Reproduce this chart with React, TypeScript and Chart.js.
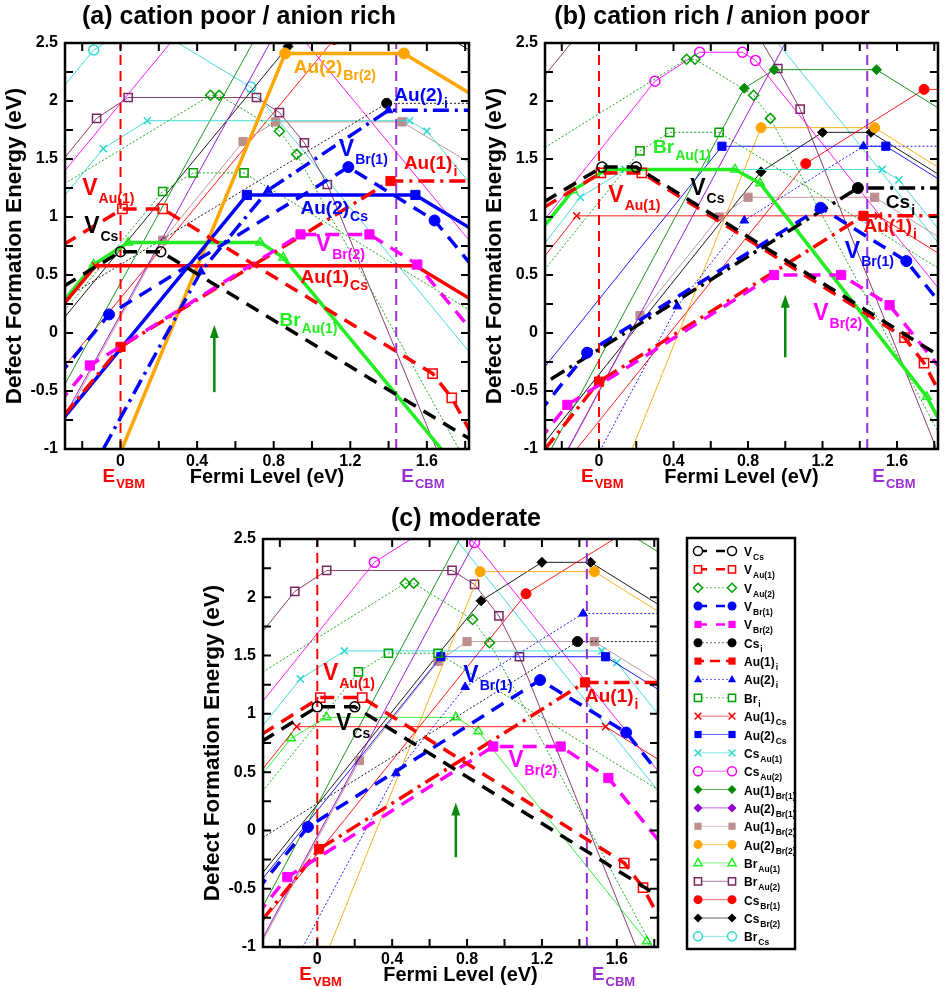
import React, { useEffect, useRef } from 'react';
import { Chart, registerables } from 'chart.js';

Chart.register(...registerables);

type Pt = [number, number];

// ---------- axes ----------
const xMin = -0.29, xMax = 1.82, yMin = -1, yMax = 2.5;
const xTickValues = [-0.2, 0, 0.2, 0.4, 0.6, 0.8, 1.0, 1.2, 1.4, 1.6, 1.8];
const xLabelValues = [0, 0.4, 0.8, 1.2, 1.6];
const xTickLabels = ['0', '0.4', '0.8', '1.2', '1.6'];
const yTickValues = [-1, -0.75, -0.5, -0.25, 0, 0.25, 0.5, 0.75, 1, 1.25, 1.5, 1.75, 2, 2.25, 2.5];
const yLabelValues = [-1, -0.5, 0, 0.5, 1, 1.5, 2, 2.5];
const yTickLabels = ['-1', '-0.5', '0', '0.5', '1', '1.5', '2', '2.5'];
const eVBM = 0;
const eCBM = 1.44;

// ---------- (a) cation poor / anion rich ----------
const vCs_a: Pt[] = [[-0.4, 0.30], [0.0, 0.70], [0.21, 0.70], [1.95, -1.04]];
const vAu1_a: Pt[] = [[-0.4, 0.66], [0.01, 1.07], [0.22, 1.07], [1.63, -0.35], [1.73, -0.56], [1.95, -1.22]];
const vAu2_a: Pt[] = [[-0.4, 1.18], [0.47, 2.05], [0.515, 2.05], [0.83, 1.74], [0.92, 1.54], [1.95, -1.55]];
const vBr1_a: Pt[] = [[-0.4, -0.52], [-0.06, 0.16], [1.19, 1.43], [1.64, 0.97], [1.95, 0.35]];
const vBr2_a: Pt[] = [[-0.4, -0.76], [-0.16, -0.28], [0.94, 0.85], [1.30, 0.85], [1.55, 0.59], [1.95, -0.21]];
const csI_a: Pt[] = [[-0.4, 0.19], [1.39, 1.98], [1.95, 1.98]];
const au1I_a: Pt[] = [[-0.4, -0.92], [0.0, -0.12], [1.41, 1.31], [1.95, 1.31]];
const au2I_a: Pt[] = [[-0.4, -1.93], [0.42, 0.53], [0.77, 1.23], [1.40, 1.92], [1.95, 1.92]];
const brI_a: Pt[] = [[-0.4, -0.02], [0.22, 1.22], [0.38, 1.38], [0.645, 1.38], [1.95, 0.07]];
const au1Cs_a: Pt[] = [[-0.4, 0.04], [-0.13, 0.58], [1.54, 0.58], [1.95, 0.17]];
const au2Cs_a: Pt[] = [[-0.4, -0.94], [0.66, 1.19], [1.54, 1.19], [1.95, 0.78]];
const csAu1_a: Pt[] = [[-0.4, 0.97], [-0.09, 1.59], [0.14, 1.83], [1.51, 1.83], [1.60, 1.74], [1.95, 1.04]];
const csAu2_a: Pt[] = [[-0.4, 1.18], [0.305, 2.59], [0.54, 2.83], [0.77, 2.83], [0.84, 2.76], [1.95, 0.54]];
const au1Br1_a: Pt[] = [[-0.4, -0.77], [0.78, 2.77], [0.94, 2.93], [1.49, 2.93], [1.95, 2.47]];
const au2Br1_a: Pt[] = [[-0.4, -1.04], [0.95, 3.01]];
const au1Br2_a: Pt[] = [[-0.4, -1.07], [0.22, 0.80], [0.64, 1.65], [0.81, 1.82], [1.47, 1.82], [1.95, 1.34]];
const au2Br2_a: Pt[] = [[-0.1, -1.43], [0.86, 2.41], [1.48, 2.41], [1.95, 1.94]];
const brAu1_a: Pt[] = [[-0.4, 0.07], [-0.14, 0.59], [0.04, 0.78], [0.73, 0.78], [0.85, 0.65], [1.76, -1.17], [1.95, -1.74]];
const brAu2_a: Pt[] = [[-0.4, 1.29], [-0.125, 1.85], [0.04, 2.03], [0.71, 2.03], [0.83, 1.90], [0.96, 1.64], [1.08, 1.28], [1.95, -2.2]];
const csBr1_a: Pt[] = [[-0.4, -0.50], [1.115, 2.53], [1.745, 3.16], [1.95, 3.16]];
const csBr2_a: Pt[] = [[-0.4, -0.08], [0.875, 2.47], [1.20, 2.80], [1.46, 2.80], [1.95, 2.31]];
const brCs_a: Pt[] = [[-0.4, 1.92], [-0.14, 2.44], [0.11, 2.69], [0.68, 2.12], [1.95, -0.42]];

// ---------- (b) cation rich / anion poor ----------
const vCs_b: Pt[] = [[-0.4, 1.03], [0.016, 1.43], [0.20, 1.43], [1.95, -0.32]];
const vAu1_b: Pt[] = [[-0.4, 0.98], [0.01, 1.38], [0.23, 1.38], [1.64, -0.04], [1.745, -0.26], [1.95, -0.88]];
const vAu2_b: Pt[] = [[-0.4, 1.49], [0.47, 2.36], [0.515, 2.36], [0.83, 2.05], [0.92, 1.85], [1.95, -1.24]];
const vBr1_b: Pt[] = [[-0.4, -0.84], [-0.064, -0.17], [1.19, 1.08], [1.65, 0.62], [1.95, 0.02]];
const vBr2_b: Pt[] = [[-0.4, -1.08], [-0.17, -0.62], [0.94, 0.50], [1.30, 0.50], [1.56, 0.24], [1.95, -0.54]];
const csI_b: Pt[] = [[-0.4, -0.54], [1.39, 1.25], [1.95, 1.25]];
const au1I_b: Pt[] = [[-0.4, -1.22], [0.0, -0.42], [1.42, 1.01], [1.95, 1.01]];
const au2I_b: Pt[] = [[-0.4, -2.23], [0.42, 0.23], [0.78, 0.97], [1.42, 1.61], [1.95, 1.61]];
const brI_b: Pt[] = [[-0.4, 0.33], [0.22, 1.57], [0.38, 1.73], [0.645, 1.73], [1.95, 0.43]];
const au1Cs_b: Pt[] = [[-0.4, 0.44], [-0.12, 1.01], [1.50, 1.01], [1.95, 0.56]];
const au2Cs_b: Pt[] = [[-0.4, -0.51], [0.66, 1.61], [1.54, 1.61], [1.95, 1.20]];
const csAu1_b: Pt[] = [[-0.4, 0.55], [-0.10, 1.17], [0.14, 1.41], [1.52, 1.41], [1.61, 1.32], [1.95, 0.64]];
const csAu2_b: Pt[] = [[-0.4, 0.76], [0.30, 2.17], [0.54, 2.42], [0.77, 2.42], [0.84, 2.35], [1.95, 0.13]];
const au1Br1_b: Pt[] = [[-0.4, -1.43], [0.78, 2.11], [0.94, 2.27], [1.49, 2.27], [1.95, 1.81]];
const au2Br1_b: Pt[] = [[-0.4, -1.70], [1.30, 3.40]];
const au1Br2_b: Pt[] = [[-0.4, -1.71], [0.22, 0.15], [0.645, 1.00], [0.80, 1.17], [1.48, 1.17], [1.95, 0.70]];
const au2Br2_b: Pt[] = [[0.0, -1.71], [0.87, 1.77], [1.48, 1.77], [1.95, 1.30]];
const brAu1_b: Pt[] = [[-0.4, 0.71], [-0.14, 1.23], [0.04, 1.41], [0.73, 1.41], [0.865, 1.29], [1.76, -0.55], [1.95, -1.12]];
const brAu2_b: Pt[] = [[-0.4, 2.0], [-0.12, 2.56], [0.05, 2.73], [0.72, 2.73], [0.84, 2.60], [0.96, 2.28], [1.08, 1.93], [1.95, -1.55]];
const csBr1_b: Pt[] = [[-0.4, -1.56], [1.11, 1.46], [1.745, 2.10], [1.95, 2.10]];
const csBr2_b: Pt[] = [[-0.4, -1.16], [0.87, 1.39], [1.20, 1.73], [1.46, 1.73], [1.95, 1.24]];
const brCs_b: Pt[] = [[0.7, 3.02], [1.95, 0.52]];

// ---------- (c) moderate ----------
const vCs_c: Pt[] = [[-0.4, 0.66], [0.0, 1.06], [0.20, 1.06], [1.95, -0.69]];
const vAu1_c: Pt[] = [[-0.4, 0.72], [0.016, 1.14], [0.24, 1.14], [1.64, -0.28], [1.74, -0.49], [1.95, -1.12]];
const vAu2_c: Pt[] = [[-0.4, 1.25], [0.47, 2.12], [0.515, 2.12], [0.83, 1.81], [0.92, 1.61], [1.95, -1.48]];
const vBr1_c: Pt[] = [[-0.4, -0.67], [-0.05, 0.03], [1.19, 1.29], [1.65, 0.84], [1.95, 0.24]];
const vBr2_c: Pt[] = [[-0.4, -0.88], [-0.16, -0.40], [0.94, 0.72], [1.30, 0.72], [1.555, 0.45], [1.95, -0.34]];
const csI_c: Pt[] = [[-0.4, -0.17], [1.39, 1.62], [1.95, 1.62]];
const au1I_c: Pt[] = [[-0.4, -0.98], [0.01, -0.16], [1.43, 1.27], [1.95, 1.27]];
const au2I_c: Pt[] = [[-0.4, -1.97], [0.42, 0.49], [0.79, 1.23], [1.42, 1.86], [1.95, 1.86]];
const brI_c: Pt[] = [[-0.4, 0.12], [0.22, 1.36], [0.38, 1.52], [0.645, 1.52], [1.95, 0.22]];
const au1Cs_c: Pt[] = [[-0.4, 0.31], [-0.11, 0.89], [1.54, 0.89], [1.95, 0.48]];
const au2Cs_c: Pt[] = [[-0.4, -0.63], [0.66, 1.49], [1.54, 1.49], [1.95, 1.08]];
const csAu1_c: Pt[] = [[-0.4, 0.68], [-0.09, 1.30], [0.145, 1.54], [1.52, 1.54], [1.60, 1.44], [1.95, 0.74]];
const csAu2_c: Pt[] = [[-0.4, 0.89], [0.305, 2.30], [0.54, 2.54], [0.77, 2.54], [0.84, 2.47], [1.95, 0.25]];
const au1Br1_c: Pt[] = [[-0.4, -0.98], [0.78, 2.56], [0.94, 2.72], [1.49, 2.72], [1.95, 2.26]];
const au2Br1_c: Pt[] = [[-0.4, -1.25], [0.95, 2.80]];
const au1Br2_c: Pt[] = [[-0.4, -1.27], [0.225, 0.60], [0.645, 1.45], [0.80, 1.62], [1.48, 1.62], [1.95, 1.15]];
const au2Br2_c: Pt[] = [[-0.1, -1.66], [0.87, 2.22], [1.48, 2.22], [1.95, 1.75]];
const brAu1_c: Pt[] = [[-0.4, 0.27], [-0.14, 0.79], [0.05, 0.97], [0.74, 0.97], [0.86, 0.85], [1.76, -0.95], [1.95, -1.52]];
const brAu2_c: Pt[] = [[-0.4, 1.49], [-0.12, 2.05], [0.05, 2.23], [0.72, 2.23], [0.84, 2.11], [0.97, 1.84], [1.08, 1.49], [1.95, -1.99]];
const csBr1_c: Pt[] = [[-0.4, -1.0], [1.115, 2.03], [1.745, 2.66], [1.95, 2.66]];
const csBr2_c: Pt[] = [[-0.4, -0.58], [0.875, 1.97], [1.20, 2.30], [1.46, 2.30], [1.95, 1.81]];
const brCs_c: Pt[] = [[-0.4, 2.42], [-0.14, 2.94], [0.11, 3.19], [0.68, 2.62], [1.95, 0.08]];

// ---------- series appearance ----------
interface DefStyle {
  key: string; main: string; sub: string; color: string;
  point: string; filled: boolean; dotted?: boolean; legendDash?: number[];
}
const FONT = '"Liberation Sans", Arial, Helvetica, sans-serif';
const defStyles: DefStyle[] = [
  { key: 'vCs', main: 'V', sub: 'Cs', color: '#000000', point: 'circle', filled: false, legendDash: [9, 9] },
  { key: 'vAu1', main: 'V', sub: 'Au(1)', color: '#ff0000', point: 'rect', filled: false, legendDash: [9, 9] },
  { key: 'vAu2', main: 'V', sub: 'Au(2)', color: '#00a000', point: 'rectRot', filled: false, dotted: true },
  { key: 'vBr1', main: 'V', sub: 'Br(1)', color: '#0000ff', point: 'circle', filled: true, legendDash: [9, 9] },
  { key: 'vBr2', main: 'V', sub: 'Br(2)', color: '#ff00ff', point: 'rect', filled: true, legendDash: [9, 9] },
  { key: 'csI', main: 'Cs', sub: 'i', color: '#000000', point: 'circle', filled: true, dotted: true },
  { key: 'au1I', main: 'Au(1)', sub: 'i', color: '#ff0000', point: 'rect', filled: true, legendDash: [6, 6, 10, 6] },
  { key: 'au2I', main: 'Au(2)', sub: 'i', color: '#0000ff', point: 'triangle', filled: true, dotted: true },
  { key: 'brI', main: 'Br', sub: 'i', color: '#00a000', point: 'rect', filled: false, dotted: true },
  { key: 'au1Cs', main: 'Au(1)', sub: 'Cs', color: '#ff0000', point: 'crossRot', filled: false },
  { key: 'au2Cs', main: 'Au(2)', sub: 'Cs', color: '#0000ff', point: 'rect', filled: true },
  { key: 'csAu1', main: 'Cs', sub: 'Au(1)', color: '#30d8d0', point: 'crossRot', filled: false },
  { key: 'csAu2', main: 'Cs', sub: 'Au(2)', color: '#ff00ff', point: 'circle', filled: false },
  { key: 'au1Br1', main: 'Au(1)', sub: 'Br(1)', color: '#008b00', point: 'rectRot', filled: true },
  { key: 'au2Br1', main: 'Au(2)', sub: 'Br(1)', color: '#9400d3', point: 'rectRot', filled: true },
  { key: 'au1Br2', main: 'Au(1)', sub: 'Br(2)', color: '#bc8f8f', point: 'rect', filled: true },
  { key: 'au2Br2', main: 'Au(2)', sub: 'Br(2)', color: '#ffa500', point: 'circle', filled: true },
  { key: 'brAu1', main: 'Br', sub: 'Au(1)', color: '#22ee22', point: 'triangle', filled: false },
  { key: 'brAu2', main: 'Br', sub: 'Au(2)', color: '#7a2860', point: 'rect', filled: false },
  { key: 'csBr1', main: 'Cs', sub: 'Br(1)', color: '#ff0000', point: 'circle', filled: true },
  { key: 'csBr2', main: 'Cs', sub: 'Br(2)', color: '#000000', point: 'rectRot', filled: true },
  { key: 'brCs', main: 'Br', sub: 'Cs', color: '#30d8d0', point: 'circle', filled: false },
];

const panelA: Record<string, Pt[]> = {
  vCs: vCs_a, vAu1: vAu1_a, vAu2: vAu2_a, vBr1: vBr1_a, vBr2: vBr2_a, csI: csI_a, au1I: au1I_a,
  au2I: au2I_a, brI: brI_a, au1Cs: au1Cs_a, au2Cs: au2Cs_a, csAu1: csAu1_a, csAu2: csAu2_a,
  au1Br1: au1Br1_a, au2Br1: au2Br1_a, au1Br2: au1Br2_a, au2Br2: au2Br2_a, brAu1: brAu1_a,
  brAu2: brAu2_a, csBr1: csBr1_a, csBr2: csBr2_a, brCs: brCs_a,
};
const panelB: Record<string, Pt[]> = {
  vCs: vCs_b, vAu1: vAu1_b, vAu2: vAu2_b, vBr1: vBr1_b, vBr2: vBr2_b, csI: csI_b, au1I: au1I_b,
  au2I: au2I_b, brI: brI_b, au1Cs: au1Cs_b, au2Cs: au2Cs_b, csAu1: csAu1_b, csAu2: csAu2_b,
  au1Br1: au1Br1_b, au2Br1: au2Br1_b, au1Br2: au1Br2_b, au2Br2: au2Br2_b, brAu1: brAu1_b,
  brAu2: brAu2_b, csBr1: csBr1_b, csBr2: csBr2_b, brCs: brCs_b,
};
const panelC: Record<string, Pt[]> = {
  vCs: vCs_c, vAu1: vAu1_c, vAu2: vAu2_c, vBr1: vBr1_c, vBr2: vBr2_c, csI: csI_c, au1I: au1I_c,
  au2I: au2I_c, brI: brI_c, au1Cs: au1Cs_c, au2Cs: au2Cs_c, csAu1: csAu1_c, csAu2: csAu2_c,
  au1Br1: au1Br1_c, au2Br1: au2Br1_c, au1Br2: au1Br2_c, au2Br2: au2Br2_c, brAu1: brAu1_c,
  brAu2: brAu2_c, csBr1: csBr1_c, csBr2: csBr2_c, brCs: brCs_c,
};

// emphasised series per panel
const boldA: Record<string, string> = {
  vCs: 'dash', vAu1: 'dash', vBr1: 'dash', vBr2: 'dash', au1I: 'dashdot', au2I: 'dashdot',
  au1Cs: 'solid', au2Cs: 'solid', au2Br2: 'solid', brAu1: 'solid',
};
const boldB: Record<string, string> = {
  vCs: 'dash', vAu1: 'dash', vBr1: 'dash', vBr2: 'dash', csI: 'dashdot', au1I: 'dashdot', brAu1: 'solid',
};
const boldC: Record<string, string> = {
  vCs: 'dash', vAu1: 'dash', vBr1: 'dash', vBr2: 'dash', au1I: 'dashdot',
};

interface Label { x: number; y: number; main: string; sub: string; color: string; big?: boolean }
const labelsA: Label[] = [
  { x: 0.905, y: 2.24, main: 'Au(2)', sub: 'Br(2)', color: '#ffa500' },
  { x: 1.43, y: 2.0, main: 'Au(2)', sub: 'i', color: '#0000ff' },
  { x: 1.14, y: 1.53, main: 'V', sub: 'Br(1)', color: '#0000ff', big: true },
  { x: 1.48, y: 1.41, main: 'Au(1)', sub: 'i', color: '#ff0000' },
  { x: 0.94, y: 1.03, main: 'Au(2)', sub: 'Cs', color: '#0000ff' },
  { x: 1.02, y: 0.71, main: 'V', sub: 'Br(2)', color: '#ff00ff', big: true },
  { x: 0.94, y: 0.43, main: 'Au(1)', sub: 'Cs', color: '#ff0000' },
  { x: 0.83, y: 0.06, main: 'Br', sub: 'Au(1)', color: '#22ee22' },
  { x: -0.20, y: 1.19, main: 'V', sub: 'Au(1)', color: '#ff0000', big: true },
  { x: -0.19, y: 0.86, main: 'V', sub: 'Cs', color: '#000000', big: true },
];
const labelsB: Label[] = [
  { x: 0.29, y: 1.55, main: 'Br', sub: 'Au(1)', color: '#22ee22' },
  { x: 0.05, y: 1.13, main: 'V', sub: 'Au(1)', color: '#ff0000', big: true },
  { x: 0.49, y: 1.19, main: 'V', sub: 'Cs', color: '#000000', big: true },
  { x: 1.54, y: 1.08, main: 'Cs', sub: 'i', color: '#000000' },
  { x: 1.42, y: 0.87, main: 'Au(1)', sub: 'i', color: '#ff0000' },
  { x: 1.32, y: 0.65, main: 'V', sub: 'Br(1)', color: '#0000ff', big: true },
  { x: 1.15, y: 0.11, main: 'V', sub: 'Br(2)', color: '#ff00ff', big: true },
];
const labelsC: Label[] = [
  { x: 0.03, y: 1.29, main: 'V', sub: 'Au(1)', color: '#ff0000', big: true },
  { x: 0.10, y: 0.86, main: 'V', sub: 'Cs', color: '#000000', big: true },
  { x: 0.78, y: 1.27, main: 'V', sub: 'Br(1)', color: '#0000ff', big: true },
  { x: 1.43, y: 1.10, main: 'Au(1)', sub: 'i', color: '#ff0000' },
  { x: 1.02, y: 0.54, main: 'V', sub: 'Br(2)', color: '#ff00ff', big: true },
];

// green arrow: [x, tail, tip]
const arrowA = [0.49, -0.51, 0.07];
const arrowB = [1.0, -0.21, 0.33];
const arrowC = [0.74, -0.23, 0.24];

const CBM_COLOR = '#9b30d0';

function drawSub(ctx: CanvasRenderingContext2D, x: number, y: number, main: string, sub: string,
  color: string, mainSize: number, subSize: number, drop: number) {
  ctx.save();
  ctx.fillStyle = color;
  ctx.textAlign = 'left';
  ctx.textBaseline = 'alphabetic';
  ctx.font = `bold ${mainSize}px ${FONT}`;
  ctx.fillText(main, x, y);
  const w = ctx.measureText(main).width;
  if (sub) {
    ctx.font = `bold ${subSize}px ${FONT}`;
    ctx.fillText(sub, x + w + 1, y + drop);
  }
  ctx.restore();
}

function markerPath(ctx: CanvasRenderingContext2D, st: DefStyle, x: number, y: number, r: number) {
  ctx.beginPath();
  if (st.point === 'circle') ctx.arc(x, y, r, 0, Math.PI * 2);
  else if (st.point === 'rect') ctx.rect(x - r * 0.8, y - r * 0.8, r * 1.6, r * 1.6);
  else if (st.point === 'rectRot') { ctx.moveTo(x, y - r); ctx.lineTo(x + r, y); ctx.lineTo(x, y + r); ctx.lineTo(x - r, y); ctx.closePath(); }
  else if (st.point === 'triangle') { ctx.moveTo(x, y - r); ctx.lineTo(x + r * 0.9, y + r * 0.6); ctx.lineTo(x - r * 0.9, y + r * 0.6); ctx.closePath(); }
  else { ctx.moveTo(x - r * 0.75, y - r * 0.75); ctx.lineTo(x + r * 0.75, y + r * 0.75); ctx.moveTo(x + r * 0.75, y - r * 0.75); ctx.lineTo(x - r * 0.75, y + r * 0.75); }
}

interface PanelCfg {
  title: string; titleX: number; titleY: number; labels: Label[]; arrow: number[]; legend?: boolean;
}

function makeDecor(cfg: PanelCfg) {
  return {
    id: 'decor',
    afterDatasetsDraw(chart: any) {
      const { ctx, chartArea: a } = chart;
      const sx = chart.scales.x, sy = chart.scales.y;
      const X = (v: number) => sx.getPixelForValue(v);
      const Y = (v: number) => sy.getPixelForValue(v);
      ctx.save();
      // arrow
      const ax = X(cfg.arrow[0]), at = Y(cfg.arrow[1]), ah = Y(cfg.arrow[2]);
      ctx.strokeStyle = '#0a8a0a'; ctx.fillStyle = '#0a8a0a'; ctx.lineWidth = 2.5;
      ctx.beginPath(); ctx.moveTo(ax, at); ctx.lineTo(ax, ah + 10); ctx.stroke();
      ctx.beginPath(); ctx.moveTo(ax, ah); ctx.lineTo(ax + 4.5, ah + 13); ctx.lineTo(ax - 4.5, ah + 13); ctx.closePath(); ctx.fill();
      // in-plot labels
      for (const l of cfg.labels) {
        drawSub(ctx, X(l.x), Y(l.y), l.main, l.sub, l.color, l.big ? 23 : 19, 14, l.big ? 8 : 7);
      }
      // frame
      ctx.strokeStyle = '#000'; ctx.lineWidth = 2.5;
      ctx.strokeRect(a.left, a.top, a.right - a.left, a.bottom - a.top);
      ctx.lineWidth = 2;
      ctx.beginPath();
      for (const v of xTickValues) {
        const px = X(v);
        ctx.moveTo(px, a.bottom); ctx.lineTo(px, a.bottom - 8);
        ctx.moveTo(px, a.top); ctx.lineTo(px, a.top + 8);
      }
      for (const v of yTickValues) {
        const py = Y(v);
        ctx.moveTo(a.left, py); ctx.lineTo(a.left + 8, py);
        ctx.moveTo(a.right, py); ctx.lineTo(a.right - 8, py);
      }
      ctx.stroke();
      // tick labels
      ctx.fillStyle = '#000';
      ctx.font = `bold 16px ${FONT}`;
      ctx.textAlign = 'center'; ctx.textBaseline = 'alphabetic';
      xLabelValues.forEach((v, i) => ctx.fillText(xTickLabels[i], X(v), a.bottom + 17));
      ctx.textAlign = 'right'; ctx.textBaseline = 'middle';
      yLabelValues.forEach((v, i) => ctx.fillText(yTickLabels[i], a.left - 7, Y(v)));
      // axis titles
      ctx.textAlign = 'center'; ctx.textBaseline = 'alphabetic';
      ctx.font = `bold 20px ${FONT}`;
      ctx.fillText('Fermi Level (eV)', (a.left + a.right) / 2, a.bottom + 34);
      ctx.save();
      ctx.translate(a.left - 44, (a.top + a.bottom) / 2);
      ctx.rotate(-Math.PI / 2);
      ctx.font = `bold 22.5px ${FONT}`;
      ctx.fillText('Defect Formation Energy (eV)', 0, 0);
      ctx.restore();
      // band edge labels
      drawSub(ctx, X(eVBM) - 18, a.bottom + 33, 'E', 'VBM', '#ff0000', 19, 13, 6);
      drawSub(ctx, X(eCBM) + 5, a.bottom + 33, 'E', 'CBM', CBM_COLOR, 19, 13, 6);
      // title
      ctx.fillStyle = '#000';
      ctx.font = `bold 25px ${FONT}`;
      ctx.textAlign = 'center';
      ctx.fillText(cfg.title, cfg.titleX, cfg.titleY);
      // legend box
      if (cfg.legend) {
        const bx = a.right + 29, by = a.top - 1, bw = 108, bh = 411;
        ctx.lineWidth = 2.5; ctx.strokeStyle = '#000';
        ctx.strokeRect(bx, by, bw, bh);
        defStyles.forEach((st, i) => {
          const ly = by + 13 + i * 18.35;
          const x1 = bx + 11, x2 = bx + 45;
          ctx.save();
          ctx.strokeStyle = st.color;
          ctx.lineWidth = st.legendDash ? 2.5 : 1;
          ctx.setLineDash(st.legendDash ? st.legendDash : st.dotted ? [2, 2] : []);
          ctx.globalAlpha = st.legendDash ? 1 : 0.6;
          ctx.beginPath(); ctx.moveTo(x1, ly); ctx.lineTo(x2, ly); ctx.stroke();
          ctx.restore();
          for (const mx of [x1, x2]) {
            markerPath(ctx, st, mx, ly, 4.5);
            ctx.save();
            ctx.setLineDash([]);
            if (st.filled) { ctx.fillStyle = st.color; ctx.fill(); }
            else { ctx.fillStyle = '#fff'; if (st.point !== 'crossRot') ctx.fill(); ctx.strokeStyle = st.color; ctx.lineWidth = 1.5; ctx.stroke(); }
            ctx.restore();
          }
          drawSub(ctx, bx + 57, ly + 5, st.main, st.sub, '#000', 12, 8.5, 4);
        });
      }
      ctx.restore();
    },
  };
}

function buildDatasets(data: Record<string, Pt[]>, bold: Record<string, string>) {
  const sets: any[] = [];
  const refLine = (x: number, color: string) => ({
    data: [{ x, y: yMin }, { x, y: yMax }], showLine: true, borderColor: color, borderWidth: 2,
    borderDash: [10, 6], pointRadius: 0, clip: 0, order: 5,
  });
  sets.push(refLine(eVBM, '#ff0000'));
  sets.push(refLine(eCBM, CBM_COLOR));
  for (const st of defStyles) {
    const pts = data[st.key];
    const mode = bold[st.key];
    const thick = !!mode;
    const dash = mode === 'dash' ? [14, 9] : mode === 'dashdot' ? [16, 6, 3, 6] : mode === 'solid' ? [] : st.dotted ? [2, 2] : [];
    sets.push({
      data: pts.map(([x, y]) => ({ x, y })),
      showLine: true,
      borderColor: st.color,
      borderWidth: thick ? 3.5 : 0.9,
      borderDash: dash,
      pointStyle: st.point,
      pointRadius: st.point === 'rect' ? (thick ? 6.5 : 5.8) : st.point === 'circle' && st.filled && thick ? 5.5 : 5,
      pointBackgroundColor: st.filled ? st.color : 'rgba(0,0,0,0)',
      pointBorderColor: st.color,
      pointBorderWidth: st.filled ? 1 : 1.5,
      clip: 0,
      order: thick ? 1 : 10,
      tension: 0,
    });
  }
  return sets;
}

function Panel(props: { data: Record<string, Pt[]>; bold: Record<string, string>; cfg: PanelCfg;
  left: number; top: number; width: number; height: number; pad: { left: number; top: number; right: number; bottom: number } }) {
  const ref = useRef<HTMLCanvasElement>(null);
  useEffect(() => {
    const chart = new Chart(ref.current as HTMLCanvasElement, {
      type: 'scatter',
      data: { datasets: buildDatasets(props.data, props.bold) },
      options: {
        responsive: false,
        animation: false,
        layout: { padding: props.pad },
        plugins: { legend: { display: false }, tooltip: { enabled: false } },
        scales: {
          x: { type: 'linear', min: xMin, max: xMax, display: false },
          y: { type: 'linear', min: yMin, max: yMax, display: false },
        },
      },
      plugins: [makeDecor(props.cfg)],
    });
    return () => chart.destroy();
  }, []);
  return (
    <canvas ref={ref} width={props.width} height={props.height}
      style={{ position: 'absolute', left: props.left, top: props.top, width: props.width, height: props.height }} />
  );
}

export default function App() {
  return (
    <div style={{ position: 'absolute', left: 0, top: 0, width: 946, height: 988, background: '#fff', overflow: 'hidden' }}>
      <Panel data={panelA} bold={boldA} left={0} top={0} width={480} height={500}
        pad={{ left: 65, top: 43, right: 11, bottom: 51 }}
        cfg={{ title: '(a) cation poor / anion rich', titleX: 239, titleY: 24, labels: labelsA, arrow: arrowA }} />
      <Panel data={panelB} bold={boldB} left={480} top={0} width={466} height={500}
        pad={{ left: 65, top: 43, right: 4, bottom: 51 }}
        cfg={{ title: '(b) cation rich / anion poor', titleX: 232, titleY: 24, labels: labelsB, arrow: arrowB }} />
      <Panel data={panelC} bold={boldC} left={200} top={505} width={746} height={483}
        pad={{ left: 63, top: 34, right: 288, bottom: 41 }}
        cfg={{ title: '(c) moderate', titleX: 266, titleY: 21, labels: labelsC, arrow: arrowC, legend: true }} />
    </div>
  );
}
